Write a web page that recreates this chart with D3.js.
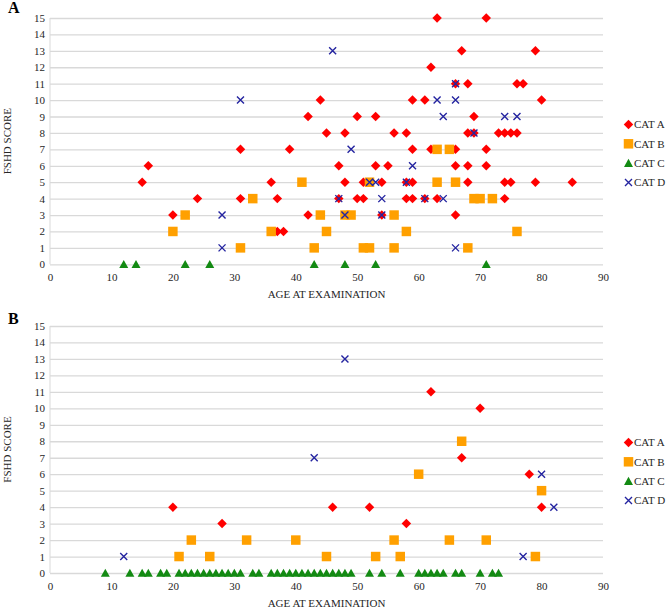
<!DOCTYPE html>
<html><head><meta charset="utf-8">
<script src="https://cdn.jsdelivr.net/npm/d3@7"></script>
<style>body{margin:0;background:#fff}svg{display:block}svg text{font-family:"Liberation Serif","Times New Roman",serif}</style>
</head><body>
<svg id="chart" width="669" height="609"></svg>
<script>
// ---------- DATA ----------
const seriesNames = ["CAT A", "CAT B", "CAT C", "CAT D"];
const xTicks = [0, 10, 20, 30, 40, 50, 60, 70, 80, 90];
const yTicks = [0,1,2,3,4,5,6,7,8,9,10,11,12,13,14,15];

// Panel A: [age, score]
const panelA_catA = [
  [63,15],[71,15],[67,13],[79,13],[62,12],
  [66,11],[68,11],[76,11],[77,11],
  [44,10],[59,10],[61,10],[80,10],
  [42,9],[50,9],[53,9],[69,9],
  [45,8],[48,8],[56,8],[58,8],[68,8],[69,8],[73,8],[74,8],[75,8],[76,8],
  [31,7],[39,7],[59,7],[62,7],[66,7],[71,7],
  [16,6],[47,6],[53,6],[55,6],[66,6],[68,6],[71,6],
  [15,5],[36,5],[48,5],[51,5],[54,5],[58,5],[59,5],[68,5],[74,5],[75,5],[79,5],[85,5],
  [24,4],[31,4],[37,4],[47,4],[50,4],[51,4],[58,4],[59,4],[61,4],[63,4],[74,4],
  [20,3],[42,3],[54,3],[66,3],
  [37,2],[38,2]
];
const panelA_catB = [
  [63,7],[65,7],
  [41,5],[52,5],[63,5],[66,5],
  [33,4],[69,4],[70,4],[72,4],
  [22,3],[44,3],[48,3],[49,3],[56,3],
  [20,2],[36,2],[45,2],[58,2],[76,2],
  [31,1],[43,1],[51,1],[52,1],[56,1],[68,1]
];
const panelA_catC = [
  [12,0],[14,0],[22,0],[26,0],[43,0],[48,0],[53,0],[71,0]
];
const panelA_catD = [
  [46,13],[66,11],[31,10],[63,10],[66,10],[64,9],[74,9],[76,9],[69,8],[49,7],[59,6],
  [52,5],[53,5],[58,5],[47,4],[54,4],[61,4],[64,4],[28,3],[48,3],[54,3],[28,1],[66,1]
];

// Panel B: [age, score]
const panelB_catA = [
  [62,11],[70,10],[67,7],[78,6],[20,4],[46,4],[52,4],[80,4],[28,3],[58,3]
];
const panelB_catB = [
  [67,8],[60,6],[80,5],[23,2],[32,2],[40,2],[56,2],[65,2],[71,2],
  [21,1],[26,1],[45,1],[53,1],[57,1],[79,1]
];
const panelB_catC = [
  [9,0],[13,0],[15,0],[16,0],[18,0],[19,0],[21,0],[22,0],[23,0],[24,0],[25,0],[26,0],[27,0],
  [28,0],[29,0],[30,0],[31,0],[33,0],[34,0],[36,0],[37,0],[38,0],[39,0],[40,0],[41,0],[42,0],
  [43,0],[44,0],[45,0],[46,0],[47,0],[48,0],[49,0],[52,0],[54,0],[57,0],[60,0],[61,0],[62,0],
  [63,0],[64,0],[66,0],[67,0],[70,0],[72,0],[73,0]
];
const panelB_catD = [
  [12,1],[43,7],[48,13],[77,1],[80,6],[82,4]
];

// ---------- DRAWING ----------
const svg = d3.select("#chart");
const FONT = "Liberation Serif";
const TEXT = "#262626";
const colors = { "CAT A": "#ff0000", "CAT B": "#ffa000", "CAT C": "#138a13", "CAT D": "#2424a0" };

const diamond = { draw(ctx, size) { const r = Math.sqrt(size) / 2; ctx.moveTo(0,-r); ctx.lineTo(r,0); ctx.lineTo(0,r); ctx.lineTo(-r,0); ctx.closePath(); } };
const square = { draw(ctx, size) { const r = Math.sqrt(size) / 2; ctx.rect(-r,-r,2*r,2*r); } };
const triangle = { draw(ctx, size) { const r = Math.sqrt(size) / 2; ctx.moveTo(0,-r*0.95); ctx.lineTo(r,r*0.85); ctx.lineTo(-r,r*0.85); ctx.closePath(); } };
const cross = { draw(ctx, size) { const r = Math.sqrt(size) / 2; ctx.moveTo(-r,-r); ctx.lineTo(r,r); ctx.moveTo(r,-r); ctx.lineTo(-r,r); } };

const symbols = {
  "CAT A": d3.symbol().type(diamond).size(90),
  "CAT B": d3.symbol().type(square).size(90),
  "CAT C": d3.symbol().type(triangle).size(81),
  "CAT D": d3.symbol().type(cross).size(49)
};

function drawMarker(g, name, x, y) {
  const p = g.append("path").attr("d", symbols[name]()).attr("transform", `translate(${x},${y})`);
  if (name === "CAT D") p.attr("fill", "none").attr("stroke", colors[name]).attr("stroke-width", 1.4);
  else p.attr("fill", colors[name]);
}

function panel(cfg) {
  const x = d3.scaleLinear().domain([0, 90]).range([50, 603]);
  const y = d3.scaleLinear().domain([0, 15]).range([cfg.y0, cfg.y15]);
  const g = svg.append("g");

  // gridlines
  g.append("g").attr("transform", "translate(50,0)")
    .call(d3.axisLeft(y).tickValues(yTicks).tickSize(-(603 - 50)).tickFormat(""))
    .call(a => a.select(".domain").remove())
    .call(a => a.selectAll("line").attr("stroke", "#d9d9d9").attr("stroke-width", 1.3));
  g.append("line").attr("x1", 50).attr("x2", 50).attr("y1", y(15)).attr("y2", y(0))
    .attr("stroke", "#d9d9d9").attr("stroke-width", 1);

  // y axis labels
  g.append("g").attr("transform", "translate(50,0)")
    .call(d3.axisLeft(y).tickValues(yTicks).tickSize(0).tickPadding(5).tickFormat(d3.format("d")))
    .call(a => a.select(".domain").remove())
    .call(a => a.selectAll("text").attr("font-family", FONT).attr("font-size", 11).attr("fill", TEXT));

  // x axis labels
  g.append("g").attr("transform", `translate(0,${y(0)})`)
    .call(d3.axisBottom(x).tickValues(xTicks).tickSize(0).tickPadding(9).tickFormat(d3.format("d")))
    .call(a => a.select(".domain").remove())
    .call(a => a.selectAll("text").attr("font-family", FONT).attr("font-size", 11).attr("fill", TEXT));

  // titles
  g.append("text").attr("x", (x(0) + x(90)) / 2).attr("y", y(0) + 34)
    .attr("text-anchor", "middle").attr("font-family", FONT).attr("font-size", 11).attr("fill", TEXT)
    .text("AGE AT EXAMINATION");
  g.append("text").attr("transform", `translate(11,${(y(0) + y(15)) / 2}) rotate(-90)`)
    .attr("text-anchor", "middle").attr("font-family", FONT).attr("font-size", 11).attr("fill", TEXT)
    .text("FSHD SCORE");
  g.append("text").attr("x", 8).attr("y", cfg.labelY).attr("font-family", FONT)
    .attr("font-weight", "bold").attr("font-size", 16).attr("fill", "#000").text(cfg.label);

  // series
  cfg.series.forEach((data, i) => {
    const name = seriesNames[i];
    const sg = g.append("g");
    data.forEach(d => drawMarker(sg, name, x(d[0]), y(d[1])));
  });

  // legend
  seriesNames.forEach((name, i) => {
    const ly = cfg.legendY + i * 19.3;
    drawMarker(g, name, 628.5, ly);
    g.append("text").attr("x", 634).attr("y", ly).attr("dy", "0.35em")
      .attr("font-family", FONT).attr("font-size", 11).attr("fill", TEXT).text(name);
  });
}

panel({ y0: 264.3, y15: 18, label: "A", labelY: 13, legendY: 124.5,
        series: [panelA_catA, panelA_catB, panelA_catC, panelA_catD] });
panel({ y0: 573, y15: 326, label: "B", labelY: 324, legendY: 442.5,
        series: [panelB_catA, panelB_catB, panelB_catC, panelB_catD] });
</script>
</body></html>
